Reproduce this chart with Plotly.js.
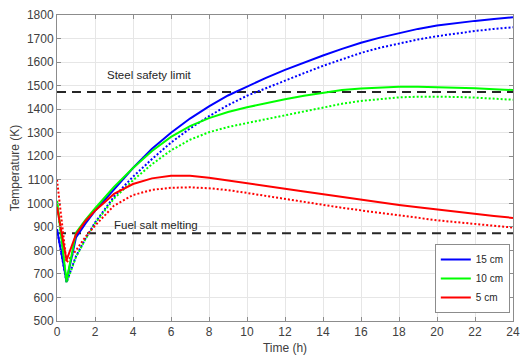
<!DOCTYPE html>
<html><head><meta charset="utf-8">
<script src="https://cdn.plot.ly/plotly-3.0.1.min.js"></script>
<style>html,body{margin:0;padding:0;background:#fff}#chart{width:520px;height:360px}</style>
</head><body><div id="chart"></div>
<script>
const timeH = [0, 0.5, 1, 1.5, 2, 3, 4, 5, 6, 7, 8, 9, 10, 11, 12, 13, 14, 15, 16, 17, 18, 19, 20, 21, 22, 23, 24];
const blueSolid   = [890, 670, 855, 915, 968, 1060, 1150, 1232, 1300, 1360, 1412, 1458, 1497, 1533, 1567, 1598, 1628, 1656, 1682, 1704, 1724, 1741, 1755, 1766, 1775, 1783, 1790];
const blueDotted  = [890, 665, 775, 850, 918, 1028, 1113, 1188, 1258, 1318, 1370, 1417, 1457, 1490, 1520, 1553, 1584, 1613, 1639, 1661, 1680, 1696, 1710, 1722, 1732, 1741, 1748];
const greenSolid  = [1010, 670, 875, 930, 978, 1070, 1150, 1222, 1282, 1328, 1362, 1388, 1408, 1426, 1442, 1457, 1470, 1481, 1488, 1493, 1495, 1495, 1494, 1492, 1489, 1485, 1481];
const greenDotted = [1010, 662, 772, 848, 915, 1020, 1098, 1166, 1225, 1270, 1302, 1324, 1341, 1357, 1373, 1391, 1408, 1423, 1435, 1444, 1450, 1453, 1454, 1452, 1449, 1445, 1440];
const redSolid    = [985, 758, 868, 925, 968, 1040, 1082, 1106, 1117, 1117, 1109, 1098, 1086, 1074, 1062, 1050, 1038, 1026, 1015, 1004, 993, 983, 973, 964, 955, 946, 938];
const redDotted   = [1100, 748, 800, 858, 905, 990, 1035, 1057, 1066, 1068, 1064, 1056, 1044, 1031, 1018, 1005, 993, 981, 970, 959, 948, 938, 928, 920, 912, 904, 897];
const limitX = [0, 24];
const steelLimit = [1473, 1473];
const saltMelt = [873, 873];
const legendNames = ['15 cm', '10 cm', '5 cm'];
const labels = ['Steel safety limit', 'Fuel salt melting'];

const BLUE = '#0000ff', GREEN = '#00ff00', RED = '#ff0000';
const dotStyle = '2px,2px';
const FONT = 'Liberation Sans, Arial, sans-serif';
const traces = [
  {x: limitX, y: steelLimit, mode: 'lines', line: {color: '#262626', width: 2, dash: '9px,6px'}, showlegend: false, hoverinfo: 'skip'},
  {x: limitX, y: saltMelt, mode: 'lines', line: {color: '#262626', width: 2, dash: '9px,6px'}, showlegend: false, hoverinfo: 'skip'},
  {x: timeH, y: blueDotted, mode: 'lines', line: {color: BLUE, width: 2, dash: dotStyle}, showlegend: false},
  {x: timeH, y: greenDotted, mode: 'lines', line: {color: GREEN, width: 2, dash: dotStyle}, showlegend: false},
  {x: timeH, y: redDotted, mode: 'lines', line: {color: RED, width: 2, dash: dotStyle}, showlegend: false},
  {x: timeH, y: blueSolid, mode: 'lines', name: legendNames[0], line: {color: BLUE, width: 2}},
  {x: timeH, y: greenSolid, mode: 'lines', name: legendNames[1], line: {color: GREEN, width: 2}},
  {x: timeH, y: redSolid, mode: 'lines', name: legendNames[2], line: {color: RED, width: 2}}
];
const axisCommon = {
  showline: true, mirror: 'ticks', linecolor: '#8c8c8c', linewidth: 1,
  ticks: 'inside', ticklen: 4, tickcolor: '#8c8c8c',
  showgrid: true, gridcolor: '#e6e6e6', gridwidth: 1, zeroline: false,
  tickfont: {family: FONT, size: 12, color: '#404040'}
};
const layout = {
  width: 520, height: 360,
  margin: {l: 57, r: 7, t: 15, b: 39},
  paper_bgcolor: '#fff', plot_bgcolor: '#fff',
  xaxis: Object.assign({}, axisCommon, {range: [0, 24], tickvals: [0,2,4,6,8,10,12,14,16,18,20,22,24],
    title: {text: 'Time (h)', font: {family: FONT, size: 12, color: '#404040'}, standoff: 5}}),
  yaxis: Object.assign({}, axisCommon, {range: [500, 1800], dtick: 100,
    title: {text: 'Temperature (K)', font: {family: FONT, size: 12, color: '#404040'}, standoff: 4}}),
  showlegend: true,
  legend: {x: 0.993, y: 0.026, xanchor: 'right', yanchor: 'bottom', bgcolor: '#fff', bordercolor: '#8c8c8c', borderwidth: 1,
    font: {family: FONT, size: 10, color: '#262626'}, tracegroupgap: 0, itemwidth: 30},
  annotations: [
    {x: 2.55, y: 1473, yshift: 9, xanchor: 'left', yanchor: 'bottom', text: labels[0], showarrow: false,
     font: {family: FONT, size: 11.5, color: '#262626'}},
    {x: 2.9, y: 873, yshift: 0, xanchor: 'left', yanchor: 'bottom', text: labels[1], showarrow: false,
     font: {family: FONT, size: 11.5, color: '#262626'}}
  ]
};
Plotly.newPlot('chart', traces, layout, {staticPlot: true, displayModeBar: false});
</script></body></html>
